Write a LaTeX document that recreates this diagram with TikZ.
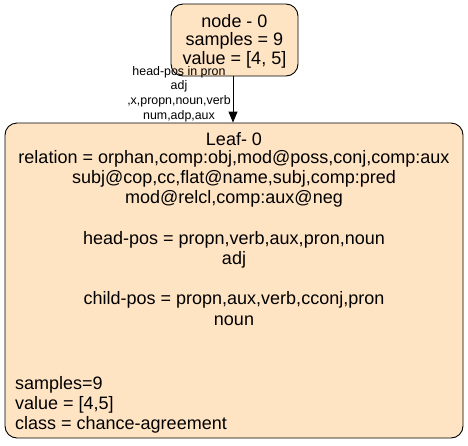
\documentclass[tikz,border=0pt]{standalone}
\usepackage{fontspec}
\setmainfont{Liberation Sans}
\usetikzlibrary{arrows.meta}
\definecolor{bisque}{HTML}{FFE4C4}
\tikzset{
  box/.style={draw=black, line width=0.9pt, fill=bisque, rounded corners=12pt, inner sep=0pt},
  txt/.style={inner sep=0pt, font=\fontsize{18pt}{20pt}\selectfont, anchor=center},
  ltxt/.style={inner sep=0pt, font=\fontsize{18pt}{20pt}\selectfont, anchor=west},
  elab/.style={inner sep=0pt, font=\fontsize{12.4pt}{14pt}\selectfont, anchor=center},
  edge/.style={draw=black, line width=0.9pt, -{Triangle[length=11pt,width=9pt]}}
}
\begin{document}
\begin{tikzpicture}[x=1pt,y=-1pt]
\useasboundingbox (0,0) rectangle (468,445);
\node[box, minimum width=127pt, minimum height=72pt] (n0) at (234.5,40) {};
\node[box, minimum width=458pt, minimum height=315pt] (leaf) at (234,280.5) {};
\draw[edge] (n0.south -| 233,0) -- (leaf.north -| 233,0);
% top node text
\node[txt] (n0a) at (234.5,21) {node - 0};
\node[txt] (n0b) at (234.5,40.5) {samples = 9};
\node[txt] (n0c) at (234.5,60) {value = [4, 5]};
% edge label
\node[elab] (e1) at (179,72) {head-pos in pron};
\node[elab] (e2) at (179,86) {adj};
\node[elab] (e3) at (179,101) {,x,propn,noun,verb};
\node[elab] (e4) at (179,116) {num,adp,aux};
% leaf text
\node[txt] (l1) at (234,139) {Leaf- 0};
\node[txt] (l2) at (234,159) {relation = orphan,comp:obj,mod@poss,conj,comp:aux};
\node[txt] (l3) at (234,179) {subj@cop,cc,flat@name,subj,comp:pred};
\node[txt] (l4) at (234,199) {mod@relcl,comp:aux@neg};
\node[txt] (l5) at (234,240) {head-pos = propn,verb,aux,pron,noun};
\node[txt] (l6) at (234,260) {adj};
\node[txt] (l7) at (234,300) {child-pos = propn,aux,verb,cconj,pron};
\node[txt] (l8) at (234,321) {noun};
\node[ltxt] (l9) at (15,385) {samples=9};
\node[ltxt] (l10) at (15,405) {value = [4,5]};
\node[ltxt] (l11) at (15,425) {class = chance-agreement};
\end{tikzpicture}
\end{document}
